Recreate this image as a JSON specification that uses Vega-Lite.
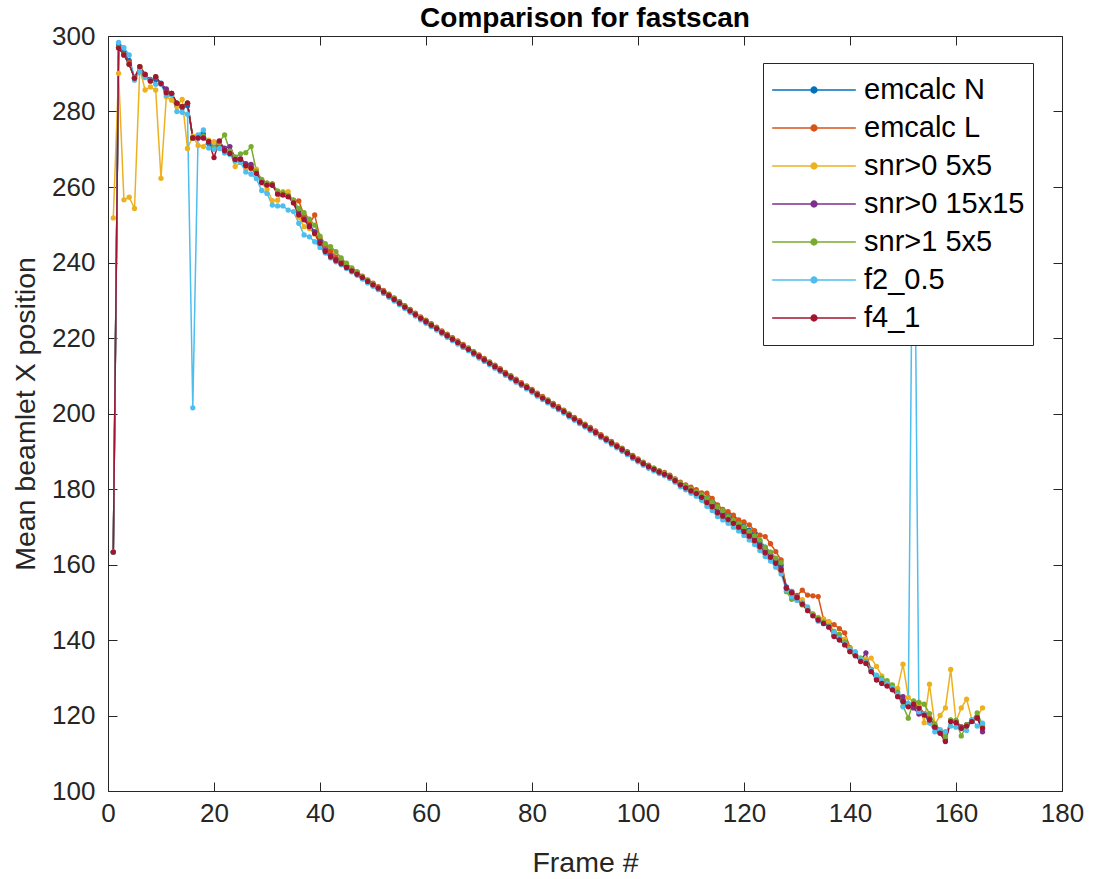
{
"$schema":"https://vega.github.io/schema/vega-lite/v6.json",
"width":954,"height":755,
"autosize":"none",
"padding":{"left":108,"top":36,"right":32,"bottom":88},
"background":"white",
"config":{"view":{"stroke":"#262626","strokeWidth":1},"font":"Liberation Sans"},
"title":{"text":"Comparison for fastscan","fontSize":28,"fontWeight":"bold","color":"#000000","font":"Liberation Sans","offset":-10,"anchor":"middle"},
"data":{"values":[
{"x":1,"a":163.3,"b":163.3,"c":251.8,"d":163.3,"e":163.3,"f":163.3,"g":163.3},
{"x":2,"a":297.5,"b":297,"c":290.1,"d":297,"e":297,"f":298.3,"g":296.8},
{"x":3,"a":295.5,"b":295.2,"c":256.6,"d":295,"e":295,"f":296.9,"g":295},
{"x":4,"a":293.5,"b":293,"c":257.3,"d":292.5,"e":292.5,"f":295,"g":292.5},
{"x":5,"a":289,"b":289,"c":254.3,"d":288.8,"e":288.8,"f":288.3,"g":288.8},
{"x":6,"a":291,"b":291.5,"c":291.4,"d":291.9,"e":291.9,"f":290.5,"g":291.9},
{"x":7,"a":289.5,"b":289.8,"c":285.7,"d":289.8,"e":289.8,"f":289,"g":289.8},
{"x":8,"a":288.5,"b":288.3,"c":286.5,"d":288.1,"e":288.1,"f":288.3,"g":288.1},
{"x":9,"a":288.5,"b":289,"c":285.7,"d":289,"e":289.2,"f":287.2,"g":289.2},
{"x":10,"a":287.5,"b":287.4,"c":262.3,"d":287.4,"e":287.4,"f":287.2,"g":287.4},
{"x":11,"a":285.5,"b":285.3,"c":283.9,"d":286,"e":285,"f":284.3,"g":285},
{"x":12,"a":284.5,"b":284.8,"c":283,"d":284.8,"e":284.8,"f":284.3,"g":284.8},
{"x":13,"a":281.5,"b":282,"c":281.3,"d":282.2,"e":282.2,"f":280,"g":282.2},
{"x":14,"a":281,"b":281.3,"c":283.2,"d":281.3,"e":281.3,"f":279.8,"g":281.3},
{"x":15,"a":281.5,"b":282.2,"c":270.2,"d":282.2,"e":282.2,"f":279.3,"g":282.2},
{"x":16,"a":273,"b":273,"c":273.5,"d":273,"e":273,"f":201.5,"g":273},
{"x":17,"a":273.5,"b":273.5,"c":271,"d":273,"e":273.5,"f":273.8,"g":273},
{"x":18,"a":274,"b":273.5,"c":270.7,"d":273,"e":273.5,"f":275.1,"g":273},
{"x":19,"a":271.5,"b":272,"c":272.4,"d":272,"e":272,"f":270.3,"g":272},
{"x":20,"a":270.5,"b":270.5,"c":272,"d":270.5,"e":270.5,"f":270,"g":267.8},
{"x":21,"a":271.5,"b":271.5,"c":271.8,"d":272,"e":272,"f":270.2,"g":272.2},
{"x":22,"a":269.8,"b":270,"c":270,"d":270.3,"e":273.8,"f":269,"g":269.6},
{"x":23,"a":269.5,"b":269.5,"c":269.3,"d":270.7,"e":269.5,"f":268.6,"g":268.9},
{"x":24,"a":267.5,"b":267.5,"c":265.4,"d":267.8,"e":268,"f":266.8,"g":267.3},
{"x":25,"a":267,"b":267.3,"c":266.5,"d":267.5,"e":268.8,"f":266.5,"g":267.3},
{"x":26,"a":265.8,"b":266,"c":265,"d":266.2,"e":269.1,"f":264,"g":265.6},
{"x":27,"a":265.2,"b":265.5,"c":264.7,"d":266,"e":270.7,"f":263.4,"g":265},
{"x":28,"a":263.8,"b":264,"c":264.7,"d":264,"e":264.2,"f":262.2,"g":263.6},
{"x":29,"a":261.5,"b":261.8,"c":261,"d":261.5,"e":262,"f":259.1,"g":261.2},
{"x":30,"a":260.5,"b":261,"c":259.5,"d":260.8,"e":261,"f":258.3,"g":260.5},
{"x":31,"a":260.5,"b":260.8,"c":256.4,"d":260.5,"e":260.8,"f":255.2,"g":260.5},
{"x":32,"a":258.5,"b":258.5,"c":256.5,"d":258.8,"e":259,"f":255,"g":258.1},
{"x":33,"a":258,"b":258.3,"c":258.8,"d":258,"e":258.5,"f":255,"g":257.9},
{"x":34,"a":257.5,"b":257.8,"c":258.8,"d":257.6,"e":257.8,"f":253.9,"g":257.4},
{"x":35,"a":256,"b":256.5,"c":256,"d":255.8,"e":256.5,"f":253.5,"g":255.8},
{"x":36,"a":253.2,"b":256.3,"c":252,"d":253,"e":254.3,"f":250.4,"g":252.6},
{"x":37,"a":251.8,"b":252.5,"c":249.5,"d":251.5,"e":253.2,"f":247.3,"g":251.3},
{"x":38,"a":250,"b":250.2,"c":249,"d":249.8,"e":251.5,"f":246.8,"g":249.5},
{"x":39,"a":248.2,"b":252.6,"c":247.5,"d":248,"e":249.9,"f":245.5,"g":247.7},
{"x":40,"a":245.7,"b":246.5,"c":245,"d":245.5,"e":247,"f":244,"g":245.1},
{"x":41,"a":243.5,"b":244.2,"c":243,"d":243.2,"e":245,"f":242.5,"g":242.9},
{"x":42,"a":242,"b":243,"c":241.8,"d":241.8,"e":244.2,"f":241.2,"g":241.5},
{"x":43,"a":241,"b":241.5,"c":240.7,"d":240.8,"e":242.9,"f":240.2,"g":240.5},
{"x":44,"a":240.2,"b":240.5,"c":239.8,"d":239.9,"e":241.2,"f":239.4,"g":239.7},
{"x":45,"a":239.1,"b":239.4,"c":238.8,"d":238.9,"e":239.8,"f":238.4,"g":238.7},
{"x":46,"a":238.1,"b":238.4,"c":237.9,"d":238,"e":238.6,"f":237.5,"g":237.8},
{"x":47,"a":237.2,"b":237.5,"c":237,"d":237,"e":237.5,"f":236.6,"g":236.9},
{"x":48,"a":236.2,"b":236.4,"c":235.9,"d":236.0,"e":236.2,"f":235.6,"g":236.0},
{"x":49,"a":235.2,"b":235.4,"c":234.9,"d":235.0,"e":235.2,"f":234.6,"g":235.0},
{"x":50,"a":234.3,"b":234.5,"c":234.0,"d":234.1,"e":234.3,"f":233.7,"g":234.1},
{"x":51,"a":233.4,"b":233.6,"c":233.1,"d":233.2,"e":233.4,"f":232.8,"g":233.2},
{"x":52,"a":232.4,"b":232.6,"c":232.1,"d":232.2,"e":232.4,"f":231.8,"g":232.2},
{"x":53,"a":231.4,"b":231.6,"c":231.1,"d":231.2,"e":231.4,"f":230.8,"g":231.2},
{"x":54,"a":230.4,"b":230.6,"c":230.1,"d":230.2,"e":230.4,"f":229.8,"g":230.2},
{"x":55,"a":229.4,"b":229.6,"c":229.1,"d":229.2,"e":229.4,"f":228.8,"g":229.2},
{"x":56,"a":228.4,"b":228.6,"c":228.1,"d":228.2,"e":228.4,"f":227.8,"g":228.2},
{"x":57,"a":227.4,"b":227.6,"c":227.1,"d":227.2,"e":227.4,"f":226.8,"g":227.2},
{"x":58,"a":226.4,"b":226.6,"c":226.1,"d":226.2,"e":226.4,"f":225.8,"g":226.2},
{"x":59,"a":225.4,"b":225.6,"c":225.1,"d":225.2,"e":225.4,"f":224.8,"g":225.2},
{"x":60,"a":224.5,"b":224.7,"c":224.2,"d":224.3,"e":224.5,"f":223.9,"g":224.3},
{"x":61,"a":223.6,"b":223.8,"c":223.3,"d":223.4,"e":223.6,"f":223.0,"g":223.4},
{"x":62,"a":222.7,"b":222.9,"c":222.4,"d":222.5,"e":222.7,"f":222.1,"g":222.5},
{"x":63,"a":221.7,"b":221.9,"c":221.4,"d":221.5,"e":221.7,"f":221.1,"g":221.5},
{"x":64,"a":220.8,"b":221.0,"c":220.5,"d":220.6,"e":220.8,"f":220.2,"g":220.6},
{"x":65,"a":219.9,"b":220.1,"c":219.6,"d":219.7,"e":219.9,"f":219.3,"g":219.7},
{"x":66,"a":219.0,"b":219.2,"c":218.7,"d":218.8,"e":219.0,"f":218.4,"g":218.8},
{"x":67,"a":218.1,"b":218.3,"c":217.8,"d":217.9,"e":218.1,"f":217.5,"g":217.9},
{"x":68,"a":217.2,"b":217.4,"c":216.9,"d":217.0,"e":217.2,"f":216.6,"g":217.0},
{"x":69,"a":216.2,"b":216.4,"c":215.9,"d":216.0,"e":216.2,"f":215.6,"g":216.0},
{"x":70,"a":215.3,"b":215.5,"c":215.0,"d":215.1,"e":215.3,"f":214.7,"g":215.1},
{"x":71,"a":214.4,"b":214.6,"c":214.1,"d":214.2,"e":214.4,"f":213.8,"g":214.2},
{"x":72,"a":213.5,"b":213.7,"c":213.2,"d":213.3,"e":213.5,"f":212.9,"g":213.3},
{"x":73,"a":212.6,"b":212.8,"c":212.3,"d":212.4,"e":212.6,"f":212.0,"g":212.4},
{"x":74,"a":211.7,"b":211.9,"c":211.4,"d":211.5,"e":211.7,"f":211.1,"g":211.5},
{"x":75,"a":210.7,"b":210.9,"c":210.4,"d":210.5,"e":210.7,"f":210.1,"g":210.5},
{"x":76,"a":209.8,"b":210.0,"c":209.5,"d":209.6,"e":209.8,"f":209.2,"g":209.6},
{"x":77,"a":208.9,"b":209.1,"c":208.6,"d":208.7,"e":208.9,"f":208.3,"g":208.7},
{"x":78,"a":208.0,"b":208.2,"c":207.7,"d":207.8,"e":208.0,"f":207.4,"g":207.8},
{"x":79,"a":207.1,"b":207.3,"c":206.8,"d":206.9,"e":207.1,"f":206.5,"g":206.9},
{"x":80,"a":206.2,"b":206.4,"c":205.9,"d":206.0,"e":206.2,"f":205.6,"g":206.0},
{"x":81,"a":205.2,"b":205.4,"c":204.9,"d":205.0,"e":205.2,"f":204.6,"g":205.0},
{"x":82,"a":204.3,"b":204.5,"c":204.0,"d":204.1,"e":204.3,"f":203.7,"g":204.1},
{"x":83,"a":203.4,"b":203.6,"c":203.1,"d":203.2,"e":203.4,"f":202.8,"g":203.2},
{"x":84,"a":202.5,"b":202.7,"c":202.2,"d":202.3,"e":202.5,"f":201.9,"g":202.3},
{"x":85,"a":201.6,"b":201.8,"c":201.3,"d":201.4,"e":201.6,"f":201.0,"g":201.4},
{"x":86,"a":200.7,"b":200.9,"c":200.4,"d":200.5,"e":200.7,"f":200.1,"g":200.5},
{"x":87,"a":199.7,"b":199.9,"c":199.4,"d":199.5,"e":199.7,"f":199.1,"g":199.5},
{"x":88,"a":198.8,"b":199.0,"c":198.5,"d":198.6,"e":198.8,"f":198.2,"g":198.6},
{"x":89,"a":197.9,"b":198.1,"c":197.6,"d":197.7,"e":197.9,"f":197.3,"g":197.7},
{"x":90,"a":197.0,"b":197.2,"c":196.7,"d":196.8,"e":197.0,"f":196.4,"g":196.8},
{"x":91,"a":196.1,"b":196.3,"c":195.8,"d":195.9,"e":196.1,"f":195.5,"g":195.9},
{"x":92,"a":195.2,"b":195.4,"c":194.9,"d":195.0,"e":195.2,"f":194.6,"g":195.0},
{"x":93,"a":194.2,"b":194.4,"c":193.9,"d":194.0,"e":194.2,"f":193.6,"g":194.0},
{"x":94,"a":193.3,"b":193.5,"c":193.0,"d":193.1,"e":193.3,"f":192.7,"g":193.1},
{"x":95,"a":192.4,"b":192.6,"c":192.1,"d":192.2,"e":192.4,"f":191.8,"g":192.2},
{"x":96,"a":191.5,"b":191.7,"c":191.2,"d":191.3,"e":191.5,"f":190.9,"g":191.3},
{"x":97,"a":190.6,"b":190.8,"c":190.3,"d":190.4,"e":190.6,"f":190.0,"g":190.4},
{"x":98,"a":189.7,"b":189.9,"c":189.4,"d":189.5,"e":189.7,"f":189.1,"g":189.5},
{"x":99,"a":188.7,"b":188.9,"c":188.4,"d":188.5,"e":188.7,"f":188.1,"g":188.5},
{"x":100,"a":187.8,"b":188.0,"c":187.5,"d":187.6,"e":187.8,"f":187.2,"g":187.6},
{"x":101,"a":186.9,"b":187.1,"c":186.6,"d":186.7,"e":186.9,"f":186.3,"g":186.7},
{"x":102,"a":186.1,"b":186.3,"c":185.8,"d":185.9,"e":186.1,"f":185.5,"g":185.9},
{"x":103,"a":185.4,"b":185.5,"c":185.1,"d":185.1,"e":185.5,"f":184.8,"g":185.2},
{"x":104,"a":184.7,"b":184.8,"c":184.4,"d":184.4,"e":184.8,"f":184.1,"g":184.5},
{"x":105,"a":184.1,"b":184.4,"c":183.8,"d":183.8,"e":184.2,"f":183.5,"g":183.9},
{"x":106,"a":183.4,"b":183.7,"c":183.1,"d":183.1,"e":183.5,"f":182.8,"g":183.2},
{"x":107,"a":182.5,"b":182.7,"c":182.1,"d":182.1,"e":182.6,"f":181.8,"g":182.2},
{"x":108,"a":181.5,"b":181.8,"c":181.0,"d":181.0,"e":181.6,"f":180.6,"g":181.1},
{"x":109,"a":180.7,"b":181.1,"c":180.2,"d":180.3,"e":180.8,"f":179.8,"g":180.3},
{"x":110,"a":179.9,"b":180.5,"c":179.4,"d":179.6,"e":180.0,"f":178.9,"g":179.5},
{"x":111,"a":179.3,"b":179.8,"c":178.7,"d":178.9,"e":179.3,"f":178.1,"g":178.8},
{"x":112,"a":178.5,"b":179.0,"c":177.7,"d":178.0,"e":178.5,"f":177.0,"g":177.8},
{"x":113,"a":177.6,"b":178.9,"c":176.2,"d":176.8,"e":177.5,"f":175.4,"g":176.4},
{"x":114,"a":176.6,"b":177.5,"c":175.1,"d":175.7,"e":176.5,"f":174.3,"g":175.3},
{"x":115,"a":175.5,"b":175.8,"c":173.5,"d":174.1,"e":175.3,"f":172.7,"g":173.7},
{"x":116,"a":174.3,"b":174.6,"c":172.6,"d":173.2,"e":174.3,"f":171.8,"g":172.8},
{"x":117,"a":173.2,"b":174.0,"c":171.7,"d":172.3,"e":172.7,"f":170.9,"g":171.9},
{"x":118,"a":172.3,"b":173.1,"c":170.7,"d":171.3,"e":171.8,"f":169.9,"g":170.9},
{"x":119,"a":171.2,"b":171.8,"c":169.7,"d":170.3,"e":170.8,"f":168.9,"g":169.9},
{"x":120,"a":170.1,"b":171.3,"c":168.5,"d":169.1,"e":169.9,"f":167.7,"g":168.7},
{"x":121,"a":169.1,"b":170.5,"c":167.3,"d":167.9,"e":168.8,"f":166.5,"g":167.5},
{"x":122,"a":168.4,"b":169.0,"c":166.1,"d":166.7,"e":167.6,"f":165.3,"g":166.3},
{"x":123,"a":166.2,"b":167.8,"c":164.5,"d":165.1,"e":166.5,"f":163.7,"g":164.7},
{"x":124,"a":164.6,"b":167.4,"c":162.9,"d":163.5,"e":164.5,"f":162.1,"g":163.1},
{"x":125,"a":163.2,"b":165.5,"c":161.7,"d":162.3,"e":163.3,"f":160.9,"g":161.9},
{"x":126,"a":161.5,"b":163.4,"c":160.1,"d":160.7,"e":161.7,"f":159.3,"g":160.3},
{"x":127,"a":159.8,"b":161.2,"c":158.3,"d":158.9,"e":160.5,"f":157.5,"g":158.5},
{"x":128,"a":154.1,"b":153.8,"c":153.7,"d":153.9,"e":152.8,"f":153.2,"g":153.7},
{"x":129,"a":152.9,"b":152.8,"c":152.8,"d":152.7,"e":150.8,"f":151.5,"g":152.5},
{"x":130,"a":151.6,"b":151.8,"c":151.5,"d":151.4,"e":150.6,"f":150.5,"g":151.2},
{"x":131,"a":149.9,"b":153.2,"c":150.7,"d":149.7,"e":149.3,"f":149.8,"g":149.5},
{"x":132,"a":148.2,"b":151.9,"c":148.5,"d":148.0,"e":147.8,"f":148.8,"g":147.8},
{"x":133,"a":146.8,"b":151.7,"c":147.0,"d":146.6,"e":146.8,"f":146.5,"g":146.4},
{"x":134,"a":145.7,"b":151.5,"c":146.0,"d":145.5,"e":145.8,"f":145.0,"g":145.3},
{"x":135,"a":144.8,"b":145.5,"c":145.5,"d":144.6,"e":144.8,"f":144.3,"g":144.4},
{"x":136,"a":143.8,"b":144.8,"c":144.8,"d":143.6,"e":143.6,"f":143.5,"g":143.4},
{"x":137,"a":141.3,"b":144.1,"c":142.0,"d":141.1,"e":142.3,"f":142.0,"g":140.9},
{"x":138,"a":140.4,"b":143.0,"c":141.0,"d":140.2,"e":141.5,"f":140.5,"g":140.0},
{"x":139,"a":139.1,"b":141.9,"c":140.2,"d":138.9,"e":139.5,"f":139.0,"g":138.7},
{"x":140,"a":137.3,"b":138.0,"c":137.8,"d":137.1,"e":137.6,"f":137.5,"g":136.9},
{"x":141,"a":136.2,"b":136.5,"c":136.5,"d":136.0,"e":136.2,"f":136.9,"g":135.8},
{"x":142,"a":134.7,"b":135.0,"c":135.2,"d":134.5,"e":135.2,"f":135.0,"g":134.3},
{"x":143,"a":134.2,"b":134.3,"c":135.0,"d":136.6,"e":134.3,"f":134.0,"g":133.8},
{"x":144,"a":132.0,"b":132.2,"c":135.2,"d":131.8,"e":132.2,"f":132.0,"g":131.6},
{"x":145,"a":129.8,"b":130.2,"c":133.0,"d":129.6,"e":130.4,"f":130.7,"g":129.4},
{"x":146,"a":128.9,"b":129.2,"c":130.5,"d":128.7,"e":129.9,"f":129.4,"g":128.5},
{"x":147,"a":128.2,"b":128.3,"c":128.5,"d":128.0,"e":129.2,"f":128.5,"g":127.8},
{"x":148,"a":127.2,"b":127.3,"c":127.8,"d":127.0,"e":128.1,"f":127.3,"g":126.8},
{"x":149,"a":125.4,"b":125.6,"c":127.2,"d":125.2,"e":126.2,"f":125.5,"g":125.0},
{"x":150,"a":124.1,"b":124.3,"c":133.6,"d":125.0,"e":122.5,"f":122.3,"g":123.7},
{"x":151,"a":122.7,"b":122.8,"c":124.8,"d":122.5,"e":119.3,"f":123.2,"g":122.3},
{"x":152,"a":123.4,"b":123.4,"c":123.5,"d":122.0,"e":123.9,"f":285,"g":123.0},
{"x":153,"a":122.3,"b":122.3,"c":123.2,"d":120.4,"e":123.5,"f":121.0,"g":121.9},
{"x":154,"a":120.5,"b":120.5,"c":118.1,"d":120.3,"e":123.0,"f":120.5,"g":120.1},
{"x":155,"a":119.2,"b":119.2,"c":128.3,"d":119.0,"e":120.5,"f":118.0,"g":118.8},
{"x":156,"a":117.3,"b":117.3,"c":117.5,"d":117.1,"e":117.8,"f":115.7,"g":116.9},
{"x":157,"a":115.7,"b":115.8,"c":120.0,"d":115.5,"e":116.2,"f":116.2,"g":115.3},
{"x":158,"a":113.5,"b":113.6,"c":122.0,"d":113.3,"e":114.5,"f":115.7,"g":113.1},
{"x":159,"a":118.8,"b":118.7,"c":132.2,"d":118.6,"e":118.8,"f":117.2,"g":118.4},
{"x":160,"a":118.5,"b":118.4,"c":118.4,"d":118.3,"e":118.7,"f":116.9,"g":118.1},
{"x":161,"a":117.0,"b":117.0,"c":122.0,"d":116.8,"e":114.6,"f":116.5,"g":116.6},
{"x":162,"a":117.6,"b":117.5,"c":124.3,"d":117.4,"e":117.5,"f":116.0,"g":117.2},
{"x":163,"a":118.8,"b":118.8,"c":118.9,"d":118.6,"e":118.6,"f":118.8,"g":118.4},
{"x":164,"a":119.7,"b":119.6,"c":119.7,"d":119.5,"e":120.7,"f":117.2,"g":119.3},
{"x":165,"a":117.0,"b":117.0,"c":122.0,"d":115.7,"e":117.5,"f":118.0,"g":116.6}
]},
"transform":[{"fold":["a","b","c","d","e","f","g"],"as":["s","v"]}],
"encoding":{
"color":{"field":"s","type":"nominal","sort":null,
"scale":{"domain":["a","b","c","d","e","f","g"],"range":["#0072BD","#D95319","#EDB120","#7E2F8E","#77AC30","#4DBEEE","#A2142F"]},
"legend":{"orient":"none","legendX":655,"legendY":27,"title":null,"fillColor":"white","strokeColor":"#262626","padding":8,
"labelFontSize":29,"labelFont":"Liberation Sans","labelColor":"#000000","labelLimit":400,"labelOffset":7,"rowPadding":0,"clipHeight":38,
"symbolType":"M-1,0L1,0M-0.07,0A0.07,0.07 0 1,0 0.07,0A0.07,0.07 0 1,0 -0.07,0","symbolSize":7000,"symbolStrokeWidth":1.5,"symbolOpacity":1,
"labelExpr":"datum.label=='a'?'emcalc N':datum.label=='b'?'emcalc L':datum.label=='c'?'snr>0 5x5':datum.label=='d'?'snr>0 15x15':datum.label=='e'?'snr>1 5x5':datum.label=='f'?'f2_0.5':'f4_1'",
"encode":{"symbols":{"update":{"fill":{"scale":"color","field":"value"},"stroke":{"scale":"color","field":"value"}}}}}}
},
"layer":[
{"mark":{"type":"line","strokeWidth":1.5,"clip":true},
"encoding":{
"x":{"field":"x","type":"quantitative","scale":{"domain":[0,180],"nice":false,"zero":false},
"axis":{"orient":"bottom","values":[0,20,40,60,80,100,120,140,160,180],"title":"Frame #","titleFontSize":28.5,"titleFontWeight":"normal","titleColor":"#262626","titleFont":"Liberation Sans","labelFontSize":26,"labelColor":"#262626","labelFont":"Liberation Sans","tickSize":-9,"tickColor":"#262626","domain":false,"grid":false,"labelPadding":18,"titlePadding":22,"labelFlush":false,"labelOverlap":false}},
"y":{"field":"v","type":"quantitative","scale":{"domain":[100,300],"nice":false,"zero":false},
"axis":{"orient":"left","values":[100,120,140,160,180,200,220,240,260,280,300],"title":"Mean beamlet X position","titleFontSize":28.5,"titleFontWeight":"normal","titleColor":"#262626","titleFont":"Liberation Sans","labelFontSize":26,"labelColor":"#262626","labelFont":"Liberation Sans","tickSize":-9,"tickColor":"#262626","domain":false,"grid":false,"labelPadding":22,"titlePadding":11,"labelFlush":false,"labelOverlap":false}}
}},
{"mark":{"type":"point","filled":true,"size":28,"opacity":1,"clip":true},
"encoding":{
"x":{"field":"x","type":"quantitative","scale":{"domain":[0,180],"nice":false,"zero":false},
"axis":{"orient":"top","values":[0,20,40,60,80,100,120,140,160,180],"title":null,"labels":false,"tickSize":-9,"tickColor":"#262626","domain":false,"grid":false}},
"y":{"field":"v","type":"quantitative","scale":{"domain":[100,300],"nice":false,"zero":false},
"axis":{"orient":"right","values":[100,120,140,160,180,200,220,240,260,280,300],"title":null,"labels":false,"tickSize":-9,"tickColor":"#262626","domain":false,"grid":false}}
}}
],
"resolve":{"axis":{"x":"independent","y":"independent"}}
}
